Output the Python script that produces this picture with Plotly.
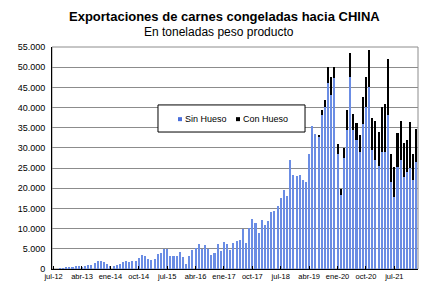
import plotly.graph_objects as go

# ---- data -------------------------------------------------------------
mes_abbr = ["ene", "feb", "mar", "abr", "may", "jun", "jul", "ago", "sep", "oct", "nov", "dic"]
months = []
y, m = 2012, 6
for _ in range(116):
    months.append(f"{mes_abbr[m]}-{str(y)[2:]}")
    m += 1
    if m == 12:
        m = 0
        y += 1

sin_hueso = [
    0, 0, 100, 200,
    400, 400, 600, 650, 650, 550, 750, 900, 1100, 1500,
    1900, 2000, 1700, 1200, 800, 800, 900, 1300, 1700, 1900,
    1700, 1900, 2100, 2700, 3500, 3100, 2600,
    2300, 2400, 3800, 4000, 4900, 5000, 3100, 3300, 3200, 4200, 2900, 1200, 3300,
    4700, 5100, 6200, 4900, 5900, 5000, 3500, 3900, 6100, 4500,
    6800, 6200, 4700, 6500, 7000, 7300, 9800, 6400, 10200, 12500,
    11500, 8800, 12100, 10900, 12000, 14200, 14400, 15600, 17700, 19600,
    18100, 27000,
    23300, 23000, 23300, 22000, 21600, 28600, 35500, 33500,
    32900, 38100, 40200, 46100, 43100, 47200, 28600, 18300, 27400, 34400,
    47600, 34400, 31900, 29000, 36000, 40200, 45100, 29500, 27000, 25500,
    29000, 29000, 38100, 21600, 17900, 25300, 27000, 22900, 24100, 24900,
    22000, 26600,
]
con_hueso = [0] * 84 + [
    400, 1300, 1600, 4000, 4500, 2900, 2300, 1500, 2500, 5000,
    5800, 4100, 4200, 4200, 6700, 7400, 9100, 7800, 9700, 8500,
    11200, 12000, 13900, 7000, 7400, 8300, 9700, 8200, 7800, 11600,
    6600, 8200,
]

series_names = ["Sin Hueso", "Con Hueso"]
tick_labels = months[::9]
y_ticks = list(range(0, 55001, 5000))

BLUE = "#6b8de4"
BLUE_KEY = "#4a6fdc"
FONT = "Liberation Sans, Arial, sans-serif"

fig = go.Figure()
fig.add_trace(go.Bar(x=months, y=sin_hueso, name=series_names[0], marker_color=BLUE,
                     marker_line_width=0))
fig.add_trace(go.Bar(x=months, y=con_hueso, name=series_names[1], marker_color="#000000",
                     marker_line_width=0))

# legend box drawn in paper coordinates (plot area = 0..1)
legend_shapes = [
    dict(type="rect", xref="paper", yref="paper", x0=0.2896, x1=0.6913, y0=0.617, y1=0.739,
         line=dict(color="#000000", width=1), fillcolor="white", layer="above"),
    dict(type="rect", xref="paper", yref="paper", x0=0.3443, x1=0.3552, y0=0.666, y1=0.684,
         line=dict(width=0), fillcolor=BLUE_KEY, layer="above"),
    dict(type="rect", xref="paper", yref="paper", x0=0.5027, x1=0.5137, y0=0.666, y1=0.684,
         line=dict(width=0), fillcolor="#000000", layer="above"),
]
legend_texts = [
    dict(text=series_names[0], xref="paper", yref="paper", x=0.357, y=0.676,
         xanchor="left", yanchor="middle", showarrow=False, font=dict(size=9, family=FONT)),
    dict(text=series_names[1], xref="paper", yref="paper", x=0.5155, y=0.676,
         xanchor="left", yanchor="middle", showarrow=False, font=dict(size=9, family=FONT)),
]

fig.update_layout(
    width=426, height=296,
    margin=dict(l=52, r=8, t=47, b=27),
    paper_bgcolor="white", plot_bgcolor="white",
    barmode="stack", bargap=0.35,
    separators=",.",
    font=dict(family=FONT, color="#000000"),
    showlegend=False,
    annotations=[
        dict(text="<b>Exportaciones de carnes congeladas hacia CHINA</b>",
             xref="paper", yref="paper", x=0.47, y=1.136, xanchor="center", yanchor="middle",
             showarrow=False, font=dict(size=13, family=FONT)),
        dict(text="En toneladas peso producto",
             xref="paper", yref="paper", x=0.455, y=1.066, xanchor="center", yanchor="middle",
             showarrow=False, font=dict(size=12, family=FONT)),
    ] + legend_texts,
    shapes=[dict(type="rect", xref="paper", yref="paper", x0=0, x1=1, y0=0, y1=1,
                 line=dict(color="#8c8c8c", width=1), layer="below")] + legend_shapes,
)
fig.update_xaxes(type="category", categoryorder="array", categoryarray=months,
                 tickmode="array", tickvals=tick_labels, ticktext=tick_labels,
                 tickfont=dict(size=7.5, family=FONT), tickangle=0,
                 showline=True, linecolor="#000000", linewidth=1,
                 ticks="inside", ticklen=3, tickcolor="#000000",
                 showgrid=False, zeroline=False)
fig.update_yaxes(range=[0, 55000], tickmode="array", tickvals=y_ticks, tickformat=",d",
                 tickfont=dict(size=9, family=FONT),
                 showline=True, linecolor="#000000", linewidth=1,
                 showgrid=True, gridcolor="#8c8c8c", gridwidth=1,
                 zeroline=False, ticks="", ticklabelstandoff=4)

fig.write_html("out.html")
